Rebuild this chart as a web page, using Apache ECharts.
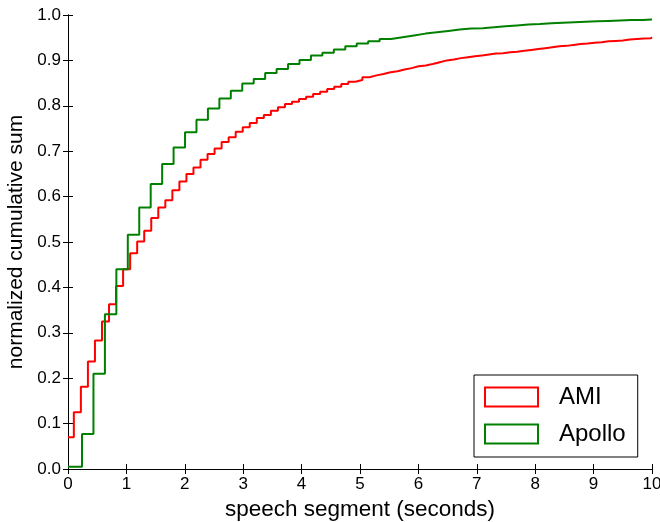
<!DOCTYPE html>
<html>
<head>
<meta charset="utf-8">
<script src="https://cdn.jsdelivr.net/npm/echarts@6/dist/echarts.min.js"></script>
<style>
  html, body { margin: 0; padding: 0; background: #fff; }
  #chart { width: 660px; height: 522px; }
</style>
</head>
<body>
<div id="chart"></div>
<script>
// Legend names
var seriesNames = ['AMI', 'Apollo'];

// AMI: first bin from 0, then bins of fixed width
var amiFirstEdge = 0.10;
var amiBinWidth = 0.1205;
var amiValues = [
    0.070, 0.125, 0.181, 0.237, 0.283, 0.325, 0.363, 0.403, 0.440, 0.475,
    0.501, 0.525, 0.553, 0.576, 0.592, 0.614, 0.633, 0.650, 0.664, 0.681,
    0.694, 0.706, 0.720, 0.731, 0.743, 0.753, 0.762, 0.773, 0.780, 0.789,
    0.797, 0.804, 0.809, 0.815, 0.820, 0.826, 0.831, 0.837, 0.842, 0.848,
    0.853, 0.857, 0.863, 0.867, 0.870, 0.874, 0.876, 0.880, 0.883, 0.887,
    0.889, 0.892, 0.896, 0.900, 0.902, 0.905, 0.907, 0.909, 0.911, 0.913,
    0.915, 0.916, 0.918, 0.919, 0.921, 0.923, 0.925, 0.927, 0.929, 0.931,
    0.932, 0.934, 0.936, 0.937, 0.939, 0.940, 0.942, 0.943, 0.944, 0.946,
    0.947, 0.948, 0.949, 0.951
];

// Apollo
var apolloFirstEdge = 0.24;
var apolloBinWidth = 0.196;
var apolloValues = [
    0.005, 0.077, 0.210, 0.341, 0.440, 0.516, 0.576, 0.628, 0.672, 0.708,
    0.742, 0.769, 0.794, 0.816, 0.833, 0.849, 0.859, 0.872, 0.881, 0.892,
    0.901, 0.911, 0.917, 0.924, 0.931, 0.937, 0.942, 0.947, 0.951, 0.955,
    0.959, 0.962, 0.965, 0.968, 0.970, 0.971, 0.973, 0.975, 0.977, 0.979,
    0.980, 0.982, 0.983, 0.984, 0.985, 0.986, 0.987, 0.988, 0.989, 0.989,
    0.990
];

var xMax = 10;

// turn bin values into step points [left edge, value]
function stepPoints(values, firstEdge, width) {
    var pts = [];
    for (var i = 0; i < values.length; i++) {
        var x = i === 0 ? 0 : firstEdge + width * (i - 1);
        pts.push([x, values[i]]);
    }
    pts.push([xMax, values[values.length - 1]]);
    return pts;
}

var font = 'Liberation Sans, Arial, sans-serif';

var chartDom = document.getElementById('chart');
var myChart = echarts.init(chartDom);
var option;

option = {
    animation: false,
    backgroundColor: '#fff',
    grid: {
        left: 68,
        right: 8,
        top: 15,
        bottom: 53,
        containLabel: false,
        outerBoundsMode: 'none'
    },
    legend: {
        orient: 'vertical',
        left: 474,
        top: 375,
        padding: [10, 12, 11, 10],
        itemWidth: 53,
        itemHeight: 19,
        itemGap: 13,
        borderColor: '#000',
        borderWidth: 1,
        backgroundColor: '#fff',
        textStyle: {
            fontFamily: font,
            fontSize: 24,
            color: '#000',
            padding: [0, 0, 0, 16]
        },
        data: [{
                name: seriesNames[0],
                icon: 'rect',
                itemStyle: { color: 'rgba(0,0,0,0)', borderColor: '#ff0000', borderWidth: 2 }
            },
            {
                name: seriesNames[1],
                icon: 'rect',
                itemStyle: { color: 'rgba(0,0,0,0)', borderColor: '#008000', borderWidth: 2 }
            }
        ]
    },
    xAxis: [{
            type: 'value',
            min: 0,
            max: xMax,
            interval: 1,
            name: 'speech segment (seconds)',
            nameLocation: 'middle',
            nameGap: 27,
            nameTextStyle: { fontFamily: font, fontSize: 22.5, color: '#000' },
            axisLine: { show: true, lineStyle: { color: '#000', width: 1 } },
            axisTick: { show: true, inside: true, length: 5, lineStyle: { color: '#000' } },
            axisLabel: { fontFamily: font, fontSize: 17, color: '#000', margin: 7 },
            splitLine: { show: false }
        },
        {
            type: 'value',
            position: 'top',
            min: 0,
            max: xMax,
            interval: 1,
            axisLine: { show: true, lineStyle: { color: '#000', width: 1 } },
            axisTick: { show: true, inside: true, length: 5, lineStyle: { color: '#000' } },
            axisLabel: { show: false },
            splitLine: { show: false }
        }
    ],
    yAxis: [{
            type: 'value',
            min: 0,
            max: 1,
            interval: 0.1,
            name: 'normalized cumulative sum',
            nameLocation: 'middle',
            nameGap: 27,
            nameTextStyle: { fontFamily: font, fontSize: 21, color: '#000' },
            axisLine: { show: true, lineStyle: { color: '#000', width: 1 } },
            axisTick: { show: true, inside: true, length: 5, lineStyle: { color: '#000' } },
            axisLabel: {
                fontFamily: font,
                fontSize: 17,
                color: '#000',
                margin: 7,
                formatter: function (v) { return v.toFixed(1); }
            },
            splitLine: { show: false }
        },
        {
            type: 'value',
            position: 'right',
            min: 0,
            max: 1,
            interval: 0.1,
            axisLine: { show: true, lineStyle: { color: '#000', width: 1 } },
            axisTick: { show: true, inside: true, length: 5, lineStyle: { color: '#000' } },
            axisLabel: { show: false },
            splitLine: { show: false }
        }
    ],
    series: [{
            name: seriesNames[0],
            type: 'line',
            step: 'end',
            symbol: 'none',
            color: '#ff0000',
            lineStyle: { color: '#ff0000', width: 2 },
            data: stepPoints(amiValues, amiFirstEdge, amiBinWidth)
        },
        {
            name: seriesNames[1],
            type: 'line',
            step: 'end',
            symbol: 'none',
            color: '#008000',
            lineStyle: { color: '#008000', width: 2 },
            data: stepPoints(apolloValues, apolloFirstEdge, apolloBinWidth)
        }
    ]
};

option && myChart.setOption(option);
</script>
</body>
</html>
